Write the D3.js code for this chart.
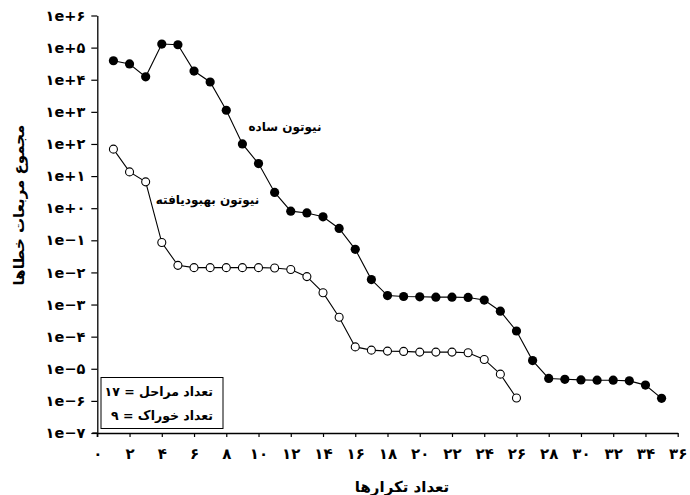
<!DOCTYPE html>
<html>
<head>
<meta charset="utf-8">
<script src="https://cdn.jsdelivr.net/npm/d3@7"></script>
<style>
  html, body { margin: 0; padding: 0; background: #fff; }
  svg { display: block; }
  text { font-family: "DejaVu Sans", sans-serif; font-weight: bold; fill: #000; }
</style>
</head>
<body>
<svg id="chart" width="690" height="495"></svg>
<script>
// ---- data ----
const iterSimple = d3.range(1, 36);   // 1..35
const valSimple = [3.9e4, 3.1e4, 1.23e4, 1.29e5, 1.23e5, 1.86e4, 8.5e3, 1.12e3, 100, 24.5,
  3.1, 0.81, 0.71, 0.54, 0.234, 0.0525, 0.0060, 0.0019, 0.00178, 0.00174,
  0.0017, 0.0017, 0.00166, 0.00138, 6.2e-4, 1.5e-4, 1.8e-5, 5.0e-6, 4.7e-6, 4.5e-6,
  4.4e-6, 4.4e-6, 4.2e-6, 3.1e-6, 1.2e-6];
const iterImproved = d3.range(1, 27); // 1..26
const valImproved = [69, 13.5, 6.6, 0.085, 0.0166, 0.0141, 0.0141, 0.0141, 0.0141, 0.0141,
  0.0138, 0.0123, 0.0074, 0.00234, 4.0e-4, 4.8e-5, 3.8e-5, 3.55e-5, 3.47e-5, 3.3e-5,
  3.3e-5, 3.3e-5, 3.16e-5, 1.95e-5, 6.8e-6, 1.23e-6];

const xTickValues = [0, 2, 4, 6, 8, 10, 12, 14, 16, 18, 20, 22, 24, 26, 28, 30, 32, 34, 36];
const xTickLabels = ["۰","۲","۴","۶","۸","۱۰","۱۲","۱۴","۱۶","۱۸","۲۰","۲۲","۲۴","۲۶","۲۸","۳۰","۳۲","۳۴","۳۶"];
const yTickValues = [1e-7, 1e-6, 1e-5, 1e-4, 1e-3, 1e-2, 1e-1, 1e0, 1e1, 1e2, 1e3, 1e4, 1e5, 1e6];
const yTickLabels = ["۱e−۷","۱e−۶","۱e−۵","۱e−۴","۱e−۳","۱e−۲","۱e−۱","۱e+۰","۱e+۱","۱e+۲","۱e+۳","۱e+۴","۱e+۵","۱e+۶"];

const seriesLabels = ["نیوتون ساده", "نیوتون بهبودیافته"];
const xTitle = "تعداد تکرارها";
const yTitle = "مجموع مربعات خطاها";
const infoLines = ["تعداد مراحل = ۱۷", "تعداد خوراک = ۹"];

// ---- layout ----
const svg = d3.select("#chart");
const x = d3.scaleLinear().domain([0, 36]).range([97.3, 677.7]);
const y = d3.scaleLog().domain([1e-7, 1e6]).range([433, 15.5]);

// axes
const xAxis = d3.axisBottom(x).tickValues(xTickValues)
  .tickFormat((d, i) => xTickLabels[i]).tickSize(4).tickSizeOuter(0).tickPadding(11);
const yAxis = d3.axisLeft(y).tickValues(yTickValues)
  .tickFormat((d, i) => yTickLabels[i]).tickSize(6).tickSizeOuter(0).tickPadding(6);

const gx = svg.append("g").attr("transform", `translate(0,${y(1e-7)})`).call(xAxis);
const gy = svg.append("g").attr("transform", `translate(${x(0)},0)`).call(yAxis);
[gx, gy].forEach(g => {
  g.selectAll("path.domain").attr("stroke", "#000").attr("stroke-width", 1.3);
  g.selectAll(".tick line").attr("stroke", "#000").attr("stroke-width", 1.2);
  g.selectAll(".tick text").style("font-family", "'DejaVu Sans', sans-serif")
    .style("font-weight", "bold").attr("fill", "#000");
});
gx.selectAll(".tick text").style("font-size", "15px");
gy.selectAll(".tick text").style("font-size", "14.5px");
// small axis extensions past the crossing
svg.append("line").attr("x1", x(0) - 5).attr("x2", x(0)).attr("y1", y(1e-7)).attr("y2", y(1e-7))
  .attr("stroke", "#000").attr("stroke-width", 1.3);
svg.append("line").attr("x1", x(0)).attr("x2", x(0)).attr("y1", y(1e-7)).attr("y2", y(1e-7) + 4)
  .attr("stroke", "#000").attr("stroke-width", 1.3);

// titles
svg.append("text").attr("x", 402).attr("y", 492).attr("text-anchor", "middle")
  .style("font-size", "15px").text(xTitle);
svg.append("text").attr("transform", "translate(24,205) rotate(-90)").attr("text-anchor", "middle")
  .style("font-size", "15px").text(yTitle);

// lines
const line = d3.line().x(d => x(d[0])).y(d => y(d[1]));
const dSimple = iterSimple.map((it, i) => [it, valSimple[i]]);
const dImproved = iterImproved.map((it, i) => [it, valImproved[i]]);

svg.append("path").datum(dSimple).attr("d", line).attr("fill", "none")
  .attr("stroke", "#000").attr("stroke-width", 1.1);
svg.append("path").datum(dImproved).attr("d", line).attr("fill", "none")
  .attr("stroke", "#000").attr("stroke-width", 1.1);

svg.append("g").selectAll("circle").data(dSimple).join("circle")
  .attr("cx", d => x(d[0])).attr("cy", d => y(d[1])).attr("r", 4.6)
  .attr("fill", "#000");
svg.append("g").selectAll("circle").data(dImproved).join("circle")
  .attr("cx", d => x(d[0])).attr("cy", d => y(d[1])).attr("r", 4)
  .attr("fill", "#fff").attr("stroke", "#000").attr("stroke-width", 1.1);

// series annotations
svg.append("text").attr("x", 285).attr("y", 131).attr("text-anchor", "middle")
  .style("font-size", "12px").text(seriesLabels[0]);
svg.append("text").attr("x", 207.5).attr("y", 204).attr("text-anchor", "middle")
  .style("font-size", "12px").text(seriesLabels[1]);

// info box
svg.append("rect").attr("x", 101).attr("y", 377.5).attr("width", 122).attr("height", 51)
  .attr("fill", "#fff").attr("stroke", "#000").attr("stroke-width", 1);
svg.append("text").attr("x", 213).attr("y", 396).attr("text-anchor", "end")
  .style("font-size", "12.5px").text(infoLines[0]);
svg.append("text").attr("x", 213).attr("y", 419.5).attr("text-anchor", "end")
  .style("font-size", "12.5px").text(infoLines[1]);
</script>
</body>
</html>
